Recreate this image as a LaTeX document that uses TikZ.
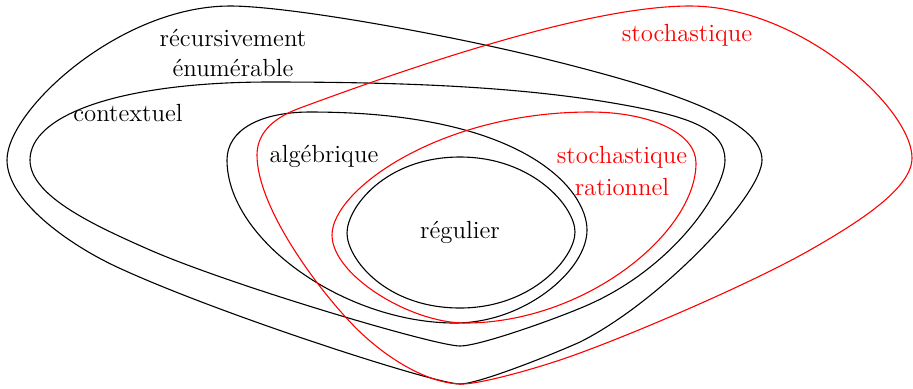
\documentclass[tikz,border=0pt]{standalone}
\begin{document}
\begin{tikzpicture}[x=0.5pt,y=-0.5pt,
  blackset/.style={draw=black,line width=0.55pt},
  redset/.style={draw=red,line width=0.55pt},
  lbl/.style={font=\fontsize{12.4}{15}\selectfont,inner sep=0pt,align=center},
  rlbl/.style={lbl,text=red}]
\useasboundingbox (0,0) rectangle (913,388);
% récursivement énumérable
\draw[blackset] (230,6) .. controls +(60,0) and +(-100,-25) .. (550,60)
  .. controls +(120,30) and +(0,-40) .. (762,160)
  .. controls +(0,35) and +(81,-40.5) .. (580,342)
  .. controls +(-30,13.5) and +(18,0) .. (460,384)
  .. controls +(-25,0) and +(100,46.5) .. (117,267)
  .. controls +(-50,-23.25) and +(0,40) .. (7,160)
  .. controls +(0,-50) and +(-110,0) .. (230,6) -- cycle;
% contextuel
\draw[blackset] (270,82) .. controls +(150,0) and +(-100,-20) .. (640,108)
  .. controls +(50,10) and +(0,-30) .. (725,160)
  .. controls +(0,30) and +(85,-38.25) .. (590,304)
  .. controls +(-30,13.5) and +(20,0) .. (460,346)
  .. controls +(-25,0) and +(80,35) .. (150,250)
  .. controls +(-60,-26.3) and +(0,35) .. (30,160)
  .. controls +(0,-45) and +(-150,0) .. (270,82) -- cycle;
% algébrique
\draw[blackset] (310,112) .. controls +(215,0) and +(0,-40) .. (587,230)
  .. controls +(0,40) and +(70,0) .. (455,323)
  .. controls +(-110,0) and +(0,80) .. (227,160)
  .. controls +(0,-30) and +(-50,0) .. (310,112) -- cycle;
% régulier
\draw[blackset] (460,157) .. controls +(73,0) and +(0,-25) .. (575,232)
  .. controls +(0,25) and +(73,0) .. (460,308)
  .. controls +(-75,0) and +(0,25) .. (347,233)
  .. controls +(0,-25) and +(-75,0) .. (460,157) -- cycle;
% stochastique
\draw[redset] (690,6) .. controls +(110,0) and +(0,-50) .. (912,158)
  .. controls +(0,30) and +(50,-28.5) .. (810,250)
  .. controls +(-60,34.2) and +(60,-20) .. (560,360)
  .. controls +(-40,13.3) and +(15,0) .. (462,384)
  .. controls +(-35,0) and +(30,31.2) .. (353,325)
  .. controls +(-40,-41.6) and +(0,50) .. (257,155)
  .. controls +(0,-25) and +(-22,8.1) .. (300,108)
  .. controls +(150,-55.5) and +(-90,0) .. (690,6) -- cycle;
% stochastique rationnel
\draw[redset] (590,112) .. controls +(60,0) and +(0,-30) .. (696,163)
  .. controls +(0,70) and +(120,0) .. (465,323)
  .. controls +(-55,0) and +(0,40) .. (332,235)
  .. controls +(0,-45) and +(-150,0) .. (590,112) -- cycle;
\node[lbl] (re1) at (233,38) {récursivement};
\node[lbl] (re2) at (233,68) {énumérable};
\node[lbl] (ctx) at (128,113) {contextuel};
\node[lbl] (alg) at (324,156) {algébrique};
\node[lbl] (reg) at (460,232) {régulier};
\node[rlbl] (sto) at (687,35) {stochastique};
\node[rlbl] (sr1) at (622,157) {stochastique};
\node[rlbl] (sr2) at (622,187) {rationnel};
\end{tikzpicture}
\end{document}
